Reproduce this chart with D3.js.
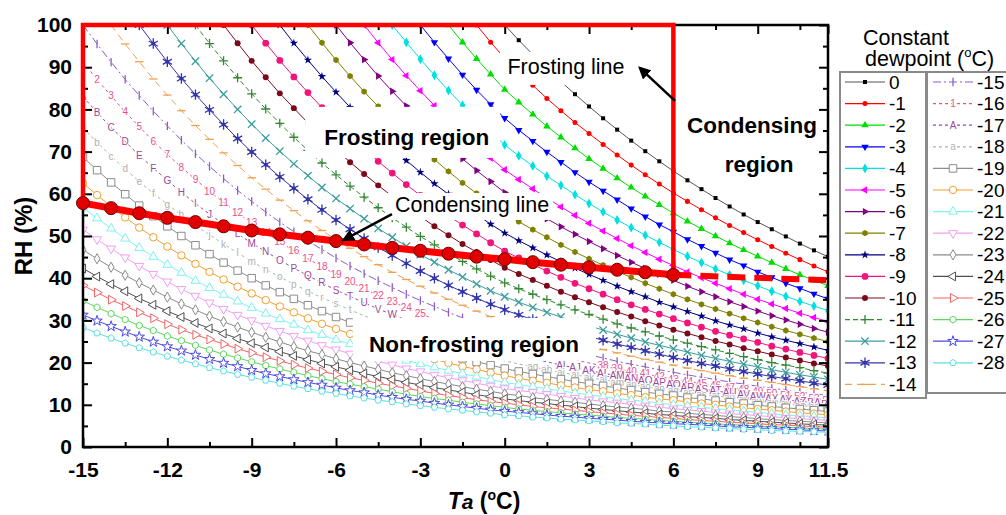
<!DOCTYPE html>
<html>
<head>
<meta charset="utf-8">
<script src="https://d3js.org/d3.v7.min.js"></script>
<style>
  body { margin: 0; background: #fff; }
  svg { display: block; font-family: Arial, "Liberation Sans", sans-serif; }
  .axis path.domain { display: none; }
  .axis line { stroke: #000; stroke-width: 2; }
  .axis text { font-size: 21px; font-weight: bold; fill: #000; font-family: Arial, "Liberation Sans", sans-serif; }
</style>
</head>
<body>
<svg width="1006" height="515"></svg>
<script>
// air temperature grid (degC), every curve ends at 11.5
var ta = [-15,-14.5,-14,-13.5,-13,-12.5,-12,-11.5,-11,-10.5,-10,-9.5,-9,-8.5,-8,-7.5,-7,-6.5,-6,-5.5,-5,-4.5,-4,-3.5,-3,-2.5,-2,-1.5,-1,-0.5,
          0,0.5,1,1.5,2,2.5,3,3.5,4,4.5,5,5.5,6,6.5,7,7.5,8,8.5,9,9.5,10,10.5,11,11.5];

var dewpoints = [0,-1,-2,-3,-4,-5,-6,-7,-8,-9,-10,-11,-12,-13,-14,-15,-16,-17,-18,-19,-20,-21,-22,-23,-24,-25,-26,-27,-28];

// RH (%) (last values line up with the end of ta)
var dp0 = [100,96.4,93.0,89.8,86.6,83.6,80.7,77.9,75.2,72.6,70.1,67.7,65.4,63.2,61.1,59.0,57.0,55.1,53.3,51.6,49.9,48.2,46.6,45.1];
var dpM1 = [100,95.9,92.1,88.8,85.7,82.6,79.7,76.9,74.3,71.7,69.2,66.8,64.5,62.3,60.2,58.2,56.2,54.3,52.5,50.8,49.1,47.5,45.9,44.4,42.9,41.5];
var dpM2 = [100,95.9,92.0,88.3,84.7,81.7,78.8,76.0,73.4,70.8,68.3,66.0,63.7,61.5,59.4,57.4,55.4,53.5,51.7,50.0,48.3,46.7,45.2,43.7,42.2,40.8,39.5,38.2];
var dpM3 = [100,95.9,92.0,88.2,84.6,81.2,77.9,75.1,72.5,69.9,67.5,65.1,62.8,60.7,58.6,56.5,54.6,52.7,51.0,49.2,47.6,46.0,44.4,43.0,41.5,40.2,38.8,37.6,36.3,35.1];
var dpM4 = [100,95.9,91.9,88.1,84.5,81.0,77.7,74.6,71.6,69.0,66.6,64.2,62.0,59.8,57.7,55.7,53.8,52.0,50.2,48.5,46.8,45.2,43.7,42.2,40.8,39.5,38.2,36.9,35.7,34.5,33.4,32.3];
var dpM5 = [100,95.8,91.8,88.0,84.4,80.9,77.6,74.4,71.4,68.5,65.7,63.4,61.2,59.0,56.9,54.9,53.0,51.2,49.4,47.7,46.1,44.5,43.0,41.5,40.1,38.8,37.5,36.2,35.0,33.9,32.8,31.7,30.7,29.7];
var dpM6 = [100,95.8,91.8,87.9,84.3,80.8,77.4,74.3,71.2,68.3,65.5,62.9,60.3,58.2,56.1,54.1,52.2,50.4,48.7,47.0,45.4,43.8,42.3,40.9,39.5,38.1,36.8,35.6,34.4,33.3,32.2,31.1,30.1,29.1,28.1,27.2];
var dpM7 = [100,95.8,91.7,87.9,84.2,80.7,77.3,74.1,71.0,68.1,65.3,62.6,60.1,57.7,55.3,53.4,51.5,49.7,47.9,46.2,44.6,43.1,41.6,40.2,38.8,37.5,36.2,35.0,33.8,32.7,31.6,30.5,29.5,28.5,27.6,26.7,25.8,25.0];
var dpM8 = [100,95.7,91.7,87.8,84.1,80.5,77.2,73.9,70.9,67.9,65.1,62.4,59.9,57.4,55.1,52.8,50.7,48.9,47.2,45.5,43.9,42.4,40.9,39.5,38.1,36.8,35.6,34.3,33.2,32.1,31.0,29.9,28.9,28.0,27.0,26.1,25.3,24.5,23.7,22.9];
var dpM9 = [100,95.7,91.6,87.7,84.0,80.4,77.0,73.8,70.7,67.7,64.9,62.2,59.6,57.2,54.8,52.6,50.5,48.4,46.4,44.8,43.2,41.7,40.2,38.8,37.5,36.2,34.9,33.7,32.6,31.5,30.4,29.4,28.4,27.4,26.5,25.6,24.8,23.9,23.2,22.4,21.7,21.0];
var dpM10 = [100,95.7,91.5,87.6,83.8,80.3,76.8,73.6,70.5,67.5,64.7,62.0,59.4,56.9,54.6,52.3,50.2,48.1,46.2,44.3,42.5,41.0,39.6,38.2,36.8,35.5,34.3,33.1,32.0,30.9,29.8,28.8,27.8,26.9,26.0,25.1,24.3,23.4,22.7,21.9,21.2,20.5,19.8,19.2];
var dpM11 = [100,95.6,91.5,87.5,83.7,80.1,76.7,73.4,70.3,67.3,64.5,61.8,59.2,56.7,54.3,52.1,49.9,47.9,45.9,44.0,42.2,40.5,38.9,37.5,36.2,34.9,33.7,32.5,31.4,30.3,29.2,28.2,27.3,26.3,25.4,24.6,23.8,23.0,22.2,21.4,20.7,20.0,19.4,18.8,18.1,17.5];
var dpM12 = [100,95.6,91.4,87.4,83.6,80.0,76.5,73.2,70.1,67.1,64.3,61.5,58.9,56.5,54.1,51.8,49.7,47.6,45.6,43.8,42.0,40.3,38.6,37.0,35.6,34.3,33.1,31.9,30.8,29.7,28.7,27.7,26.7,25.8,24.9,24.1,23.3,22.5,21.7,21.0,20.3,19.6,19.0,18.3,17.7,17.1,16.6,16.0];
var dpM13 = [100,95.6,91.3,87.3,83.5,79.9,76.4,73.1,69.9,66.9,64.0,61.3,58.7,56.2,53.8,51.6,49.4,47.3,45.4,43.5,41.7,40.0,38.3,36.8,35.3,33.8,32.5,31.3,30.2,29.2,28.1,27.1,26.2,25.3,24.4,23.6,22.8,22.0,21.2,20.5,19.8,19.2,18.5,17.9,17.3,16.7,16.2,15.7,15.1,14.7];
var dpM14 = [100,95.5,91.3,87.2,83.4,79.7,76.2,72.9,69.7,66.7,63.8,61.1,58.5,56.0,53.6,51.3,49.1,47.1,45.1,43.2,41.4,39.7,38.1,36.5,35.0,33.6,32.2,30.9,29.6,28.6,27.6,26.6,25.7,24.8,23.9,23.1,22.3,21.5,20.8,20.1,19.4,18.7,18.1,17.5,16.9,16.3,15.8,15.3,14.8,14.3,13.8,13.4];
var dpM15 = [100,95.5,91.2,87.1,83.3,79.6,76.1,72.7,69.5,66.5,63.6,60.8,58.2,55.7,53.3,51.0,48.9,46.8,44.8,42.9,41.1,39.4,37.8,36.2,34.7,33.3,31.9,30.6,29.4,28.2,27.0,26.1,25.2,24.3,23.4,22.6,21.8,21.1,20.3,19.6,19.0,18.3,17.7,17.1,16.5,16.0,15.4,14.9,14.4,13.9,13.5,13.0,12.6,12.2];
var dpM16 = [91.2,87.1,83.2,79.4,75.9,72.5,69.3,66.3,63.4,60.6,58.0,55.5,53.1,50.8,48.6,46.5,44.6,42.7,40.9,39.1,37.5,35.9,34.4,33.0,31.6,30.3,29.1,27.9,26.8,25.7,24.7,23.8,22.9,22.1,21.4,20.6,19.9,19.2,18.5,17.9,17.3,16.7,16.1,15.6,15.1,14.5,14.1,13.6,13.1,12.7,12.3,11.9,11.5,11.1];
var dpM17 = [83.0,79.3,75.7,72.4,69.1,66.1,63.2,60.4,57.7,55.2,52.8,50.5,48.3,46.3,44.3,42.4,40.6,38.9,37.2,35.7,34.2,32.7,31.4,30.1,28.8,27.6,26.5,25.4,24.4,23.4,22.5,21.7,20.9,20.2,19.4,18.8,18.1,17.5,16.9,16.3,15.7,15.2,14.7,14.2,13.7,13.3,12.8,12.4,12.0,11.6,11.2,10.8,10.5,10.1];
var dpM18 = [75.6,72.2,68.9,65.9,62.9,60.1,57.5,55.0,52.5,50.3,48.1,46.0,44.0,42.1,40.3,38.6,36.9,35.4,33.9,32.5,31.1,29.8,28.6,27.4,26.2,25.2,24.1,23.1,22.2,21.3,20.4,19.7,19.0,18.3,17.7,17.1,16.5,15.9,15.4,14.8,14.3,13.8,13.4,12.9,12.5,12.1,11.7,11.3,10.9,10.5,10.2,9.9,9.5,9.2];
var dpM19 = [68.7,65.6,62.7,59.9,57.2,54.7,52.3,50.0,47.8,45.7,43.7,41.8,40.0,38.3,36.7,35.1,33.6,32.2,30.8,29.5,28.3,27.1,26.0,24.9,23.9,22.9,21.9,21.0,20.2,19.4,18.6,17.9,17.3,16.7,16.1,15.5,15.0,14.5,14.0,13.5,13.0,12.6,12.2,11.7,11.4,11.0,10.6,10.3,9.9,9.6,9.3,9.0,8.7,8.4];
var dpM20 = [62.5,59.7,57.0,54.4,52.0,49.7,47.5,45.4,43.4,41.5,39.7,38.0,36.4,34.8,33.3,31.9,30.5,29.2,28.0,26.8,25.7,24.6,23.6,22.6,21.7,20.8,19.9,19.1,18.4,17.6,16.9,16.3,15.7,15.2,14.6,14.1,13.6,13.2,12.7,12.3,11.8,11.4,11.1,10.7,10.3,10.0,9.6,9.3,9.0,8.7,8.4,8.1,7.9,7.6];
var dpM21 = [56.7,54.2,51.8,49.4,47.2,45.1,43.2,41.3,39.4,37.7,36.1,34.5,33.0,31.6,30.3,29.0,27.7,26.6,25.4,24.4,23.3,22.4,21.4,20.5,19.7,18.9,18.1,17.4,16.7,16.0,15.3,14.8,14.3,13.8,13.3,12.8,12.4,11.9,11.5,11.1,10.8,10.4,10.0,9.7,9.4,9.1,8.8,8.5,8.2,7.9,7.6,7.4,7.2,6.9];
var dpM22 = [51.5,49.2,47.0,44.9,42.9,41.0,39.2,37.4,35.8,34.2,32.7,31.3,30.0,28.7,27.5,26.3,25.2,24.1,23.1,22.1,21.2,20.3,19.5,18.6,17.9,17.1,16.4,15.8,15.1,14.5,13.9,13.4,13.0,12.5,12.1,11.6,11.2,10.8,10.5,10.1,9.8,9.4,9.1,8.8,8.5,8.2,7.9,7.7,7.4,7.2,6.9,6.7,6.5,6.3];
var dpM23 = [46.7,44.6,42.6,40.7,38.9,37.2,35.5,33.9,32.5,31.0,29.7,28.4,27.2,26.0,24.9,23.8,22.8,21.9,20.9,20.0,19.2,18.4,17.6,16.9,16.2,15.5,14.9,14.3,13.7,13.2,12.6,12.2,11.7,11.3,10.9,10.6,10.2,9.8,9.5,9.2,8.9,8.5,8.3,8.0,7.7,7.5,7.2,7.0,6.7,6.5,6.3,6.1,5.9,5.7];
var dpM24 = [42.3,40.4,38.6,36.9,35.2,33.7,32.2,30.8,29.4,28.1,26.9,25.7,24.6,23.6,22.6,21.6,20.7,19.8,19.0,18.2,17.4,16.7,16.0,15.3,14.7,14.1,13.5,13.0,12.4,11.9,11.4,11.0,10.6,10.3,9.9,9.6,9.2,8.9,8.6,8.3,8.0,7.7,7.5,7.2,7.0,6.8,6.5,6.3,6.1,5.9,5.7,5.5,5.3,5.2];
var dpM25 = [38.3,36.6,34.9,33.4,31.9,30.5,29.1,27.8,26.6,25.5,24.4,23.3,22.3,21.3,20.4,19.5,18.7,17.9,17.2,16.4,15.8,15.1,14.5,13.9,13.3,12.7,12.2,11.7,11.2,10.8,10.4,10.0,9.6,9.3,9.0,8.7,8.4,8.1,7.8,7.5,7.3,7.0,6.8,6.5,6.3,6.1,5.9,5.7,5.5,5.3,5.2,5.0,4.8,4.7];
var dpM26 = [34.6,33.1,31.6,30.2,28.8,27.6,26.3,25.2,24.1,23.0,22.0,21.1,20.2,19.3,18.5,17.7,16.9,16.2,15.5,14.9,14.3,13.7,13.1,12.5,12.0,11.5,11.1,10.6,10.2,9.8,9.4,9.0,8.7,8.4,8.1,7.8,7.6,7.3,7.0,6.8,6.6,6.3,6.1,5.9,5.7,5.5,5.3,5.2,5.0,4.8,4.7,4.5,4.4,4.2];
var dpM27 = [31.3,29.9,28.6,27.3,26.1,24.9,23.8,22.8,21.8,20.8,19.9,19.1,18.2,17.4,16.7,16.0,15.3,14.7,14.0,13.4,12.9,12.3,11.8,11.3,10.9,10.4,10.0,9.6,9.2,8.8,8.5,8.2,7.9,7.6,7.3,7.1,6.8,6.6,6.4,6.1,5.9,5.7,5.5,5.4,5.2,5.0,4.8,4.7,4.5,4.4,4.2,4.1,3.9,3.8];
var dpM28 = [28.3,27.0,25.8,24.6,23.5,22.5,21.5,20.6,19.7,18.8,18.0,17.2,16.5,15.8,15.1,14.4,13.8,13.2,12.7,12.1,11.6,11.1,10.7,10.2,9.8,9.4,9.0,8.7,8.3,8.0,7.6,7.4,7.1,6.9,6.6,6.4,6.2,6.0,5.7,5.6,5.4,5.2,5.0,4.8,4.7,4.5,4.4,4.2,4.1,3.9,3.8,3.7,3.6,3.5];

var rhSeries = [dp0,dpM1,dpM2,dpM3,dpM4,dpM5,dpM6,dpM7,dpM8,dpM9,dpM10,dpM11,dpM12,dpM13,dpM14,
                dpM15,dpM16,dpM17,dpM18,dpM19,dpM20,dpM21,dpM22,dpM23,dpM24,dpM25,dpM26,dpM27,dpM28];

// condensing line (solid part with dots, then dashed on to the right edge)
var condTa = [-15,-14,-13,-12,-11,-10,-9,-8,-7,-6,-5,-4,-3,-2,-1,0,1,2,3,4,5,6];
var condRh = [57.8,56.6,55.4,54.3,53.3,52.3,51.3,50.4,49.6,48.8,48.0,47.2,46.5,45.8,45.1,44.5,43.8,43.2,42.6,42.0,41.4,40.8];
var condDashTa = [6, 11.5];
var condDashRh = [40.8, 39.5];

// frosting region border
var frostTa = [-15, -15, 6, 6];
var frostRh = [57.8, 100, 100, 40.8];

var xMajor = [-15,-12,-9,-6,-3,0,3,6,9,11.5];
var xMinor = [-13.5,-10.5,-7.5,-4.5,-1.5,1.5,4.5,7.5,10.5];
var yMajor = [0,10,20,30,40,50,60,70,80,90,100];
var yMinor = [5,15,25,35,45,55,65,75,85,95];

var svg = d3.select("svg"),
    width = +svg.attr("width"),
    height = +svg.attr("height");

var x = d3.scaleLinear().domain([-15, 11.5]).range([83, 828]),
    y = d3.scaleLinear().domain([0, 100]).range([447, 25]);

// white boxes behind the region labels [ta0, rh0, ta1, rh1]
var noteBoxes = [[-7.1, 80.6, -0.17, 68.5], [-4.26, 60.2, 1.72, 53.8], [-5.4, 30.6, 3.25, 20.4], [-0.17, 93.6, 4.53, 85.8]];
function hidden(px, py) {
  return noteBoxes.some(function(b) {
    return px >= x(b[0]) - 3 && px <= x(b[2]) + 3 && py >= y(b[1]) - 3 && py <= y(b[3]) + 3;
  });
}

var defs = svg.append("defs");
defs.append("clipPath").attr("id", "plotClip").append("rect")
    .attr("x", x(-15)).attr("y", y(100))
    .attr("width", x(11.5) - x(-15)).attr("height", y(0) - y(100));
defs.append("marker").attr("id", "arrowHead")
    .attr("viewBox", "0 0 10 10").attr("refX", 8).attr("refY", 5)
    .attr("markerWidth", 5).attr("markerHeight", 5).attr("orient", "auto")
  .append("path").attr("d", "M0,0L10,5L0,10z").attr("fill", "#000");

// custom marker shapes (Origin style)
function polygon(n) {
  return { draw: function(ctx, size) {
    var r = Math.sqrt(2 * size / (n * Math.sin(2 * Math.PI / n)));
    for (var k = 0; k < n; k++) {
      var a = 2 * Math.PI * k / n;
      if (k) ctx.lineTo(r * Math.sin(a), -r * Math.cos(a));
      else ctx.moveTo(r * Math.sin(a), -r * Math.cos(a));
    }
    ctx.closePath();
  }};
}
function strokes(angles) {
  return { draw: function(ctx, size) {
    var r = Math.sqrt(size) / 2;
    angles.forEach(function(a) {
      var c = Math.cos(a * Math.PI / 180) * r, s = Math.sin(a * Math.PI / 180) * r;
      ctx.moveTo(-c, -s); ctx.lineTo(c, s);
    });
  }};
}

var colors = ["#000000","#ff0000","#00dd00","#0000ff","#00e0e0","#ff00ff","#800080","#808000","#000080","#f0157a",
              "#7a0a1a","#338833","#3c9c9c","#3333aa","#f0a050","#8a5cc8","#e8508c","#9a4a9a","#b0b0b0","#8c8c8c",
              "#f0a030","#7ff0f0","#f0a0f0","#8a8a8a","#505050","#f06464","#5cd65c","#4a4ae0","#5ce0e0"];
var lineColors = colors.slice(); lineColors[0] = "#555";
var dashes = ["","","","","","","","","","","","5,3","","","7,5","8,3,2,3","3,3","3,3","3,3","","","","","","","","","",""];

var markers = [
  {type: d3.symbolSquare, size: 16, fill: true},
  {type: d3.symbolCircle, size: 20, fill: true},
  {type: d3.symbolTriangle, size: 24, fill: true},
  {type: d3.symbolTriangle, size: 24, fill: true, rot: 180},
  {type: d3.symbolDiamond, size: 28, fill: true},
  {type: d3.symbolTriangle, size: 24, fill: true, rot: -90},
  {type: d3.symbolTriangle, size: 24, fill: true, rot: 90},
  {type: polygon(6), size: 26, fill: true},
  {type: d3.symbolStar, size: 22, fill: true},
  {type: d3.symbolCircle, size: 36, fill: true},
  {type: d3.symbolCircle, size: 28, fill: true},
  {type: strokes([0, 90]), size: 81},
  {type: strokes([45, 135]), size: 110},
  {type: strokes([90, 30, 150]), size: 110, dot: true},
  {type: strokes([0]), size: 70},
  {type: strokes([90]), size: 70},
  {text: "number"}, {text: "upper"}, {text: "lower"},
  {type: d3.symbolSquare, size: 56, open: true},
  {type: d3.symbolCircle, size: 44, open: true},
  {type: d3.symbolTriangle, size: 34, open: true},
  {type: d3.symbolTriangle, size: 34, open: true, rot: 180},
  {type: d3.symbolDiamond, size: 30, open: true},
  {type: d3.symbolTriangle, size: 34, open: true, rot: -90},
  {type: d3.symbolTriangle, size: 34, open: true, rot: 90},
  {type: polygon(6), size: 30, open: true},
  {type: d3.symbolStar, size: 34, open: true},
  {type: polygon(5), size: 28, open: true}
];

function markerLabel(kind, i) {
  if (kind === "number") return String(i + 1);
  var A = kind === "upper" ? 65 : 97;
  var s = i < 26 ? "" : String.fromCharCode(A + Math.floor(i / 26) - 1);
  return s + String.fromCharCode(A + i % 26);
}

// draws the markers of series k at pixel points pts [{px,py,i}]
function drawMarkers(g, pts, k) {
  var m = markers[k], col = colors[k];
  if (m.text) {
    g.selectAll(null).data(pts.filter(function(d) { return !hidden(d.px, d.py); })).enter().append("text")
        .attr("x", function(d) { return d.px; })
        .attr("y", function(d) { return d.py; })
        .attr("text-anchor", "middle").attr("dominant-baseline", "central")
        .attr("font-size", 10).attr("fill", col)
        .attr("stroke", "#fff").attr("stroke-width", 2).attr("paint-order", "stroke")
        .text(function(d) { return markerLabel(m.text, d.i); });
    return;
  }
  var sym = d3.symbol().type(m.type).size(m.size);
  var p = g.selectAll(null).data(pts).enter().append("path")
      .attr("d", sym)
      .attr("transform", function(d) { return "translate(" + d.px + "," + d.py + ") rotate(" + (m.rot || 0) + ")"; });
  if (m.fill) p.attr("fill", col);
  else if (m.open) p.attr("fill", "#fff").attr("stroke", col).attr("stroke-width", 1);
  else p.attr("fill", "none").attr("stroke", col).attr("stroke-width", 1.3);
  if (m.dot) {
    g.selectAll(null).data(pts).enter().append("circle")
        .attr("cx", function(d) { return d.px; }).attr("cy", function(d) { return d.py; })
        .attr("r", 2).attr("fill", col);
  }
}

// curves
var plot = svg.append("g").attr("clip-path", "url(#plotClip)");
var line = d3.line().x(function(d) { return d.px; }).y(function(d) { return d.py; });

rhSeries.forEach(function(vals, k) {
  var off = ta.length - vals.length;
  var pts = vals.map(function(v, i) { return {px: x(ta[off + i]), py: y(v), i: i}; });
  var g = plot.append("g");
  g.append("path").datum(pts).attr("d", line)
      .attr("fill", "none").attr("stroke", lineColors[k]).attr("stroke-width", 1)
      .attr("stroke-dasharray", dashes[k] || null);
  drawMarkers(g, pts, k);
});

// annotations with white background
var notes = svg.append("g");
noteBoxes.forEach(function(b) {
  notes.append("rect").attr("x", x(b[0])).attr("y", y(b[1]))
      .attr("width", x(b[2]) - x(b[0])).attr("height", y(b[3]) - y(b[1])).attr("fill", "#fff");
});
function note(t, r, txt, bold) {
  notes.append("text").attr("x", x(t)).attr("y", y(r)).attr("text-anchor", "middle")
      .attr("font-size", bold ? 22.5 : 21.5).attr("font-weight", bold ? "bold" : "normal")
      .attr("fill", "#000").text(txt);
}
note(-3.48, 71.6, "Frosting region", true);
note(-1.16, 55.7, "Condensing line", false);
note(-1.09, 22.5, "Non-frosting region", true);
note(2.18, 88.4, "Frosting line", false);
note(8.8, 74.4, "Condensing", true);
note(9.05, 65.2, "region", true);

// frame and axes
svg.append("rect").attr("x", x(-15)).attr("y", y(100))
    .attr("width", x(11.5) - x(-15)).attr("height", y(0) - y(100))
    .attr("fill", "none").attr("stroke", "#000").attr("stroke-width", 2.5);

var fmt = function(d) { return String(d); };
svg.append("g").attr("class", "axis").attr("transform", "translate(0," + y(0) + ")")
    .call(d3.axisBottom(x).tickValues(xMajor).tickSize(-9).tickSizeOuter(0).tickPadding(15).tickFormat(fmt));
svg.append("g").attr("class", "axis").attr("transform", "translate(0," + y(0) + ")")
    .call(d3.axisBottom(x).tickValues(xMinor).tickSize(-5).tickSizeOuter(0).tickFormat(""));
svg.append("g").attr("class", "axis").attr("transform", "translate(0," + y(100) + ")")
    .call(d3.axisTop(x).tickValues(xMajor).tickSize(-9).tickSizeOuter(0).tickFormat(""));
svg.append("g").attr("class", "axis").attr("transform", "translate(0," + y(100) + ")")
    .call(d3.axisTop(x).tickValues(xMinor).tickSize(-5).tickSizeOuter(0).tickFormat(""));
svg.append("g").attr("class", "axis").attr("transform", "translate(" + x(-15) + ",0)")
    .call(d3.axisLeft(y).tickValues(yMajor).tickSize(-9).tickSizeOuter(0).tickPadding(11).tickFormat(fmt));
svg.append("g").attr("class", "axis").attr("transform", "translate(" + x(-15) + ",0)")
    .call(d3.axisLeft(y).tickValues(yMinor).tickSize(-5).tickSizeOuter(0).tickFormat(""));
svg.append("g").attr("class", "axis").attr("transform", "translate(" + x(11.5) + ",0)")
    .call(d3.axisRight(y).tickValues(yMajor).tickSize(-9).tickSizeOuter(0).tickFormat(""));
svg.append("g").attr("class", "axis").attr("transform", "translate(" + x(11.5) + ",0)")
    .call(d3.axisRight(y).tickValues(yMinor).tickSize(-5).tickSizeOuter(0).tickFormat(""));

// red frosting border and condensing line
var redLine = d3.line().x(function(d) { return x(d[0]); }).y(function(d) { return y(d[1]); });
svg.append("path").datum(frostTa.map(function(t, i) { return [t, frostRh[i]]; }))
    .attr("d", redLine).attr("fill", "none").attr("stroke", "#ff0000").attr("stroke-width", 4.5);
svg.append("path").datum(condDashTa.map(function(t, i) { return [t, condDashRh[i]]; }))
    .attr("d", redLine).attr("fill", "none").attr("stroke", "#ff0000").attr("stroke-width", 6)
    .attr("stroke-dasharray", "18,9");
var condPts = condTa.map(function(t, i) { return [t, condRh[i]]; });
svg.append("path").datum(condPts).attr("d", redLine)
    .attr("fill", "none").attr("stroke", "#ff0000").attr("stroke-width", 7);
svg.append("g").selectAll("circle").data(condPts).enter().append("circle")
    .attr("cx", function(d) { return x(d[0]); }).attr("cy", function(d) { return y(d[1]); })
    .attr("r", 6.5).attr("fill", "#e00000").attr("stroke", "#700000").attr("stroke-width", 1);

// arrows
function arrow(t0, r0, t1, r1) {
  svg.append("line").attr("x1", x(t0)).attr("y1", y(r0)).attr("x2", x(t1)).attr("y2", y(r1))
      .attr("stroke", "#000").attr("stroke-width", 2.5).attr("marker-end", "url(#arrowHead)");
}
arrow(-4.01, 55.2, -5.72, 49.1);
arrow(6.06, 82.0, 4.81, 89.8);

// axis titles
svg.append("text").attr("transform", "translate(32," + y(50) + ") rotate(-90)")
    .attr("text-anchor", "middle").attr("font-size", 24).attr("font-weight", "bold").text("RH (%)");
var xt = svg.append("text").attr("x", 484).attr("y", 509).attr("text-anchor", "middle")
    .attr("font-size", 23).attr("font-weight", "bold");
xt.append("tspan").attr("font-style", "italic").text("T");
xt.append("tspan").attr("font-style", "italic").attr("font-size", 21).text("a");
xt.append("tspan").text(" (");
xt.append("tspan").attr("font-size", 14).attr("dy", -9).text("o");
xt.append("tspan").attr("dy", 9).text("C)");

// legend
var legend = svg.append("g");
legend.append("text").attr("x", 863).attr("y", 45).attr("font-size", 21.5).text("Constant");
var lt2 = legend.append("text").attr("x", 865).attr("y", 66).attr("font-size", 21.5);
lt2.append("tspan").text("dewpoint (");
lt2.append("tspan").attr("font-size", 13).attr("dy", -9).text("o");
lt2.append("tspan").attr("dy", 9).text("C)");

legend.append("rect").attr("x", 840).attr("y", 72).attr("width", 86).attr("height", 326)
    .attr("fill", "#fff").attr("stroke", "#8a8a8a").attr("stroke-width", 2);
legend.append("rect").attr("x", 927).attr("y", 72).attr("width", 92).attr("height", 321)
    .attr("fill", "#fff").attr("stroke", "#8a8a8a").attr("stroke-width", 2);

dewpoints.forEach(function(dp, k) {
  var col = k < 15 ? 0 : 1, row = col ? k - 15 : k;
  var ly = 82 + row * 21.6, lx = col ? 933 : 845;
  var g = legend.append("g");
  g.append("line").attr("x1", lx).attr("x2", lx + 40).attr("y1", ly).attr("y2", ly)
      .attr("stroke", lineColors[k]).attr("stroke-width", 1.2).attr("stroke-dasharray", dashes[k] || null);
  drawMarkers(g, [{px: lx + 20, py: ly, i: 0}], k);
  g.append("text").attr("x", lx + 44).attr("y", ly).attr("dominant-baseline", "central")
      .attr("font-size", 19).text(String(dp));
});
</script>
</body>
</html>
